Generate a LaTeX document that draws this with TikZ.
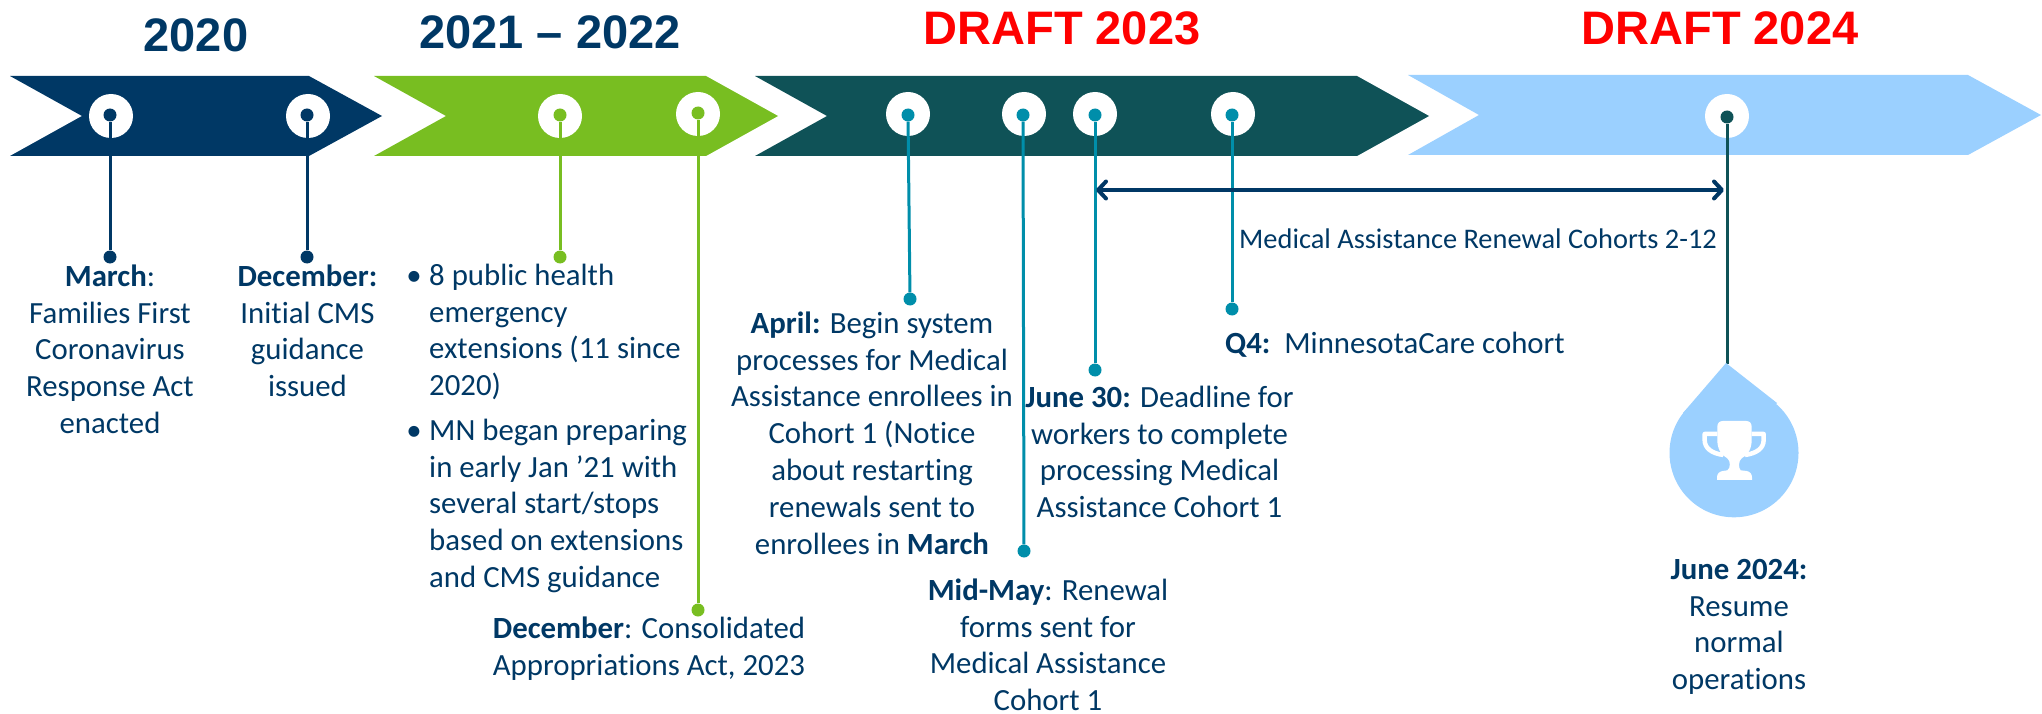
\documentclass[tikz,border=0pt]{standalone}
\usepackage{fontspec}
\setmainfont[Ligatures=NoCommon]{Carlito}
\newfontfamily\headfont{Liberation Sans}
\usetikzlibrary{arrows.meta}
\definecolor{navy}{HTML}{003865}
\definecolor{leaf}{HTML}{78BE21}
\definecolor{pine}{HTML}{0F5257}
\definecolor{sky}{HTML}{9BD0FF}
\definecolor{tealx}{HTML}{008EAA}
\newcommand{\fl}{\rule{0pt}{22pt}}
\tikzset{x=1pt,y=-1pt,
 headtxt/.style={font=\headfont\bfseries\fontsize{47}{50}\selectfont,inner sep=0pt,anchor=base},
 hole/.style={circle,fill=white,draw=none,minimum size=44pt,inner sep=0pt},
 pin/.style={circle,inner sep=0pt,minimum size=13pt,draw=none},
 stem/.style={line width=3pt},
 body/.style={font=\fontsize{30.8}{36.8}\selectfont,text=navy,inner sep=0pt,align=center,anchor=north},
 listtxt/.style={body,align=left,anchor=north west}}
\begin{document}
\begin{tikzpicture}
\useasboundingbox (0,0) rectangle (2042,714);
% bands
\fill[navy] (10,76) -- (309,76) -- (382,116) -- (309,156) -- (10,156) -- (82,116) -- cycle;
\fill[leaf] (374,76) -- (706,76) -- (778,116) -- (706,156) -- (374,156) -- (446,116) -- cycle;
\fill[pine] (755,76) -- (1357,76) -- (1429,116) -- (1357,156) -- (755,156) -- (827,116) -- cycle;
\fill[sky] (1408,75) -- (1968,75) -- (2041,115) -- (1968,155) -- (1408,155) -- (1479,115) -- cycle;
% holes
\node[hole] (h1) at (111,116) {};
\node[hole] (h2) at (308,116) {};
\node[hole] (h3) at (560,116) {};
\node[hole] (h4) at (698,114) {};
\node[hole] (h5) at (908,114) {};
\node[hole] (h6) at (1024,114) {};
\node[hole] (h7) at (1095,114) {};
\node[hole] (h8) at (1233,114) {};
\node[hole] (h9) at (1727,116) {};
% pins
\node[pin,fill=navy] (t1) at (110,115) {};
\node[pin,fill=navy] (b1) at (110,257) {};
\node[pin,fill=navy] (t2) at (307,115) {};
\node[pin,fill=navy] (b2) at (307,257) {};
\node[pin,fill=leaf] (t3) at (560,115) {};
\node[pin,fill=leaf] (b3) at (560,257) {};
\node[pin,fill=leaf] (t4) at (698,113) {};
\node[pin,fill=leaf] (b4) at (698,610) {};
\node[pin,fill=tealx] (t5) at (908,115) {};
\node[pin,fill=tealx] (b5) at (910,299) {};
\node[pin,fill=tealx] (t6) at (1023,115) {};
\node[pin,fill=tealx] (b6) at (1024,551) {};
\node[pin,fill=tealx] (t7) at (1095,115) {};
\node[pin,fill=tealx] (b7) at (1095,370) {};
\node[pin,fill=tealx] (t8) at (1232,115) {};
\node[pin,fill=tealx] (b8) at (1232,309) {};
\node[pin,fill=pine] (t9) at (1727,117) {};
% goal drop
\coordinate (goal) at (1727,364);
\draw[stem,pine] (t9) -- (goal);
\fill[sky] (1734,452.8) circle (64.5pt);
\fill[sky] (1726,363) -- (1683,413) -- (1734,453) -- (1777,403) -- cycle;
\begin{scope}[shift={(1620,340)},x=0.3333pt,y=-0.3333pt]
\fill[white] (292,260) .. controls (292,250) and (298,243) .. (308,243) -- (379,243) .. controls (389,243) and (395,250) .. (395,260) -- (395,300) .. controls (395,325) and (385,345) .. (365,355) .. controls (355,362) and (355,385) .. (362,391) -- (380,393) .. controls (390,395) and (396,402) .. (396,412) -- (396,420) -- (291,420) -- (291,412) .. controls (291,402) and (297,395) .. (308,393) -- (322,391) .. controls (332,385) and (332,362) .. (322,355) .. controls (302,345) and (292,325) .. (292,300) -- cycle;
\draw[white,line width=4.5pt,line join=round] (292,282) -- (254,282) -- (254,300) .. controls (254,325) and (275,340) .. (310,345);
\draw[white,line width=4.5pt,line join=round] (395,282) -- (431,282) -- (431,300) .. controls (431,325) and (410,340) .. (375,345);
\end{scope}
% stems
\draw[stem,navy] (t1) -- (b1);
\draw[stem,navy] (t2) -- (b2);
\draw[stem,leaf] (t3) -- (b3);
\draw[stem,leaf] (t4) -- (b4);
\draw[stem,tealx] (t5) -- (b5);
\draw[stem,tealx] (t6) -- (b6);
\draw[stem,tealx] (t7) -- (b7);
\draw[stem,tealx] (t8) -- (b8);
% span arrow
\coordinate (spanl) at (1096,190);
\coordinate (spanr) at (1724,190);
\draw[navy,line width=4pt,{Straight Barb[length=8pt,width=17pt,round]}-{Straight Barb[length=8pt,width=17pt,round]}] (spanl) -- (spanr);
% headings
\node[headtxt,text=navy] (y1) at (196,52) {2020};
\node[headtxt,text=navy] (y2) at (550,49) {2021 – 2022};
\node[headtxt,text=red] (y3) at (1062,45) {DRAFT 2023};
\node[headtxt,text=red] (y4) at (1720,45) {DRAFT 2024};
% texts
\node[body] (m1) at (110,264) {\fl\textbf{March}:\\Families First\\Coronavirus\\Response Act\\enacted};
\node[body] (m2) at (307.5,264) {\fl\textbf{December:}\\Initial CMS\\guidance\\issued};
\node[body] (bu1) at (414,263) {\fl•};
\node[listtxt] (li1) at (429,263) {\fl 8 public health\\emergency\\extensions (11 since\\2020)};
\node[body] (bu2) at (414,418) {\fl•};
\node[listtxt] (li2) at (429,418) {\fl MN began preparing\\in early Jan ’21 with\\several start/stops\\based on extensions\\and CMS guidance};
\node[body] (m3) at (649,616) {\fl\textbf{December}: Consolidated\\Appropriations Act, 2023};
\node[body] (m4) at (872,311) {\fl\textbf{April:} Begin system\\processes for Medical\\Assistance enrollees in\\Cohort 1 (Notice\\about restarting\\renewals sent to\\enrollees in \textbf{March}};
\node[body] (m5) at (1048,578) {\fl\textbf{Mid-May}: Renewal\\forms sent for\\Medical Assistance\\Cohort 1};
\node[body] (m6) at (1159.5,385) {\fl\textbf{June 30:} Deadline for\\workers to complete\\processing Medical\\Assistance Cohort 1};
\node[body,anchor=north west,font=\fontsize{28.4}{32}\selectfont] (m7) at (1239,226) {\fl Medical Assistance Renewal Cohorts 2-12};
\node[body,anchor=north west] (m8) at (1225,331) {\fl\textbf{Q4:}\ \ MinnesotaCare cohort};
\node[body] (m9) at (1739,557) {\fl\textbf{June 2024:}\\Resume\\normal\\operations};
\end{tikzpicture}
\end{document}
